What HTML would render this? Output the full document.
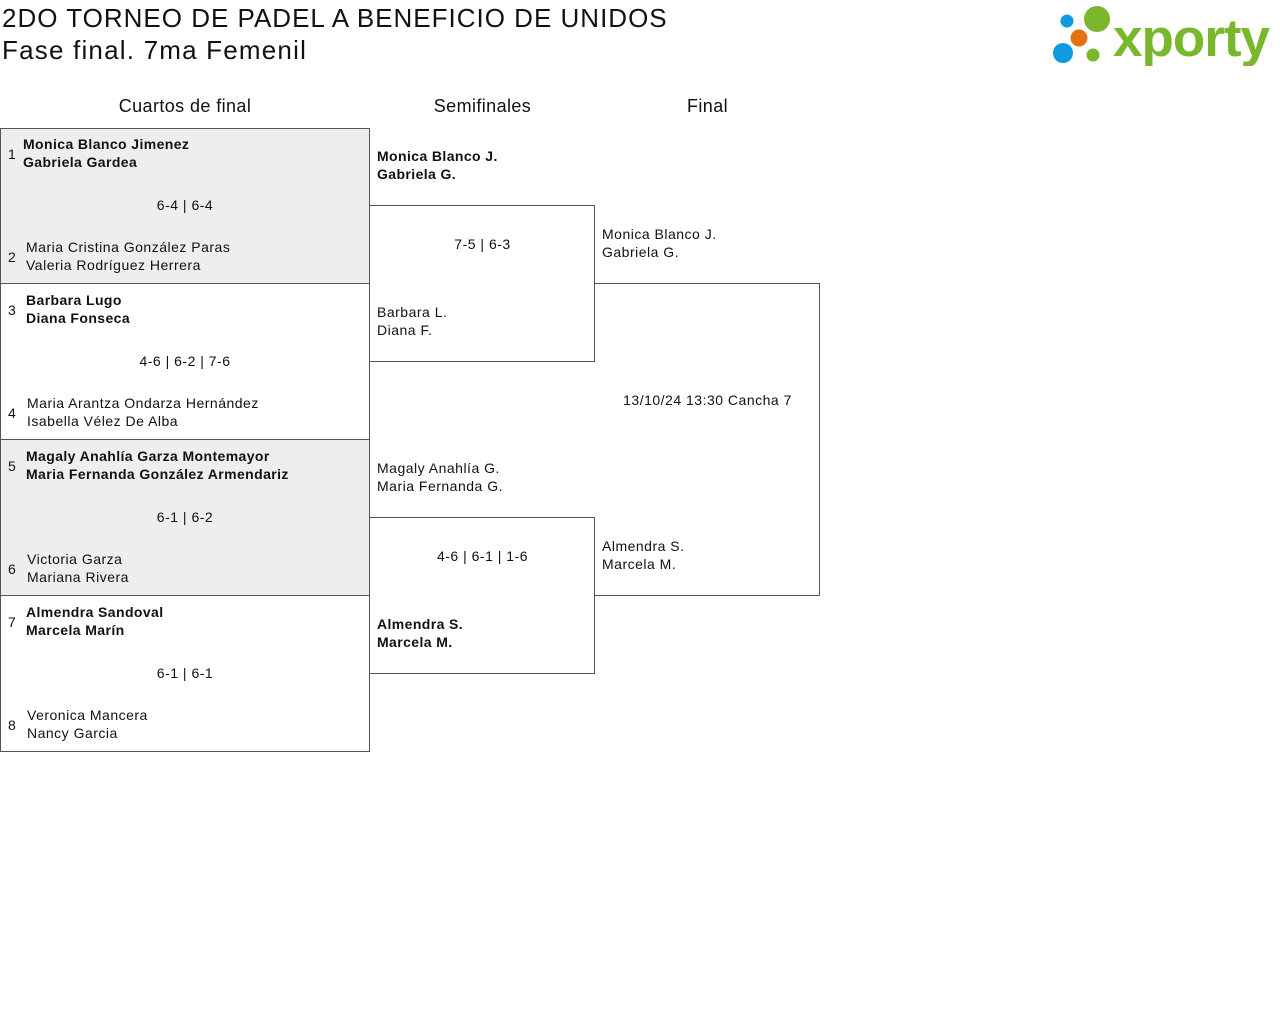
<!DOCTYPE html>
<html><head><meta charset="utf-8"><style>
body{margin:0;width:1280px;height:1015px;background:#fff;font-family:"Liberation Sans",sans-serif;color:#111;position:relative;overflow:hidden}
.a{position:absolute;white-space:nowrap}
.box{position:absolute;border:1px solid #555;box-sizing:border-box}
.t{position:absolute;font-size:14px;line-height:18px;white-space:nowrap;letter-spacing:0.5px}
.b{font-weight:bold;letter-spacing:0.4px}
.c{text-align:center}
.h{font-size:18px;position:absolute;text-align:center;line-height:20px;letter-spacing:0.4px}
</style></head><body>
<div class="a" style="left:2px;top:3px;font-size:26px;line-height:30px;letter-spacing:1px">2DO TORNEO DE PADEL A BENEFICIO DE UNIDOS</div>
<div class="a" style="left:2px;top:35px;font-size:26px;line-height:30px;letter-spacing:1.2px">Fase final. 7ma Femenil</div>
<svg class="a" style="left:1050px;top:4px" width="230" height="62">
<circle cx="17" cy="17" r="6.5" fill="#0f9be0"/>
<circle cx="47" cy="15" r="13" fill="#7ab72d"/>
<circle cx="29" cy="34" r="8.5" fill="#e8710f"/>
<circle cx="13" cy="49" r="10" fill="#0f9be0"/>
<circle cx="43" cy="51" r="6.5" fill="#7ab72d"/>
<text x="63" y="52" font-family="Liberation Sans" font-weight="bold" font-size="53" fill="#7ab72d" letter-spacing="-1">xporty</text>
</svg>
<div class="h" style="left:0;width:370px;top:96px">Cuartos de final</div>
<div class="h" style="left:370px;width:225px;top:96px">Semifinales</div>
<div class="h" style="left:595px;width:225px;top:96px">Final</div>

<div class="box" style="left:0;top:128px;width:370px;height:156px;background:#eee"></div>
<div class="box" style="left:0;top:283px;width:370px;height:157px"></div>
<div class="box" style="left:0;top:439px;width:370px;height:157px;background:#eee"></div>
<div class="box" style="left:0;top:595px;width:370px;height:157px"></div>
<div class="box" style="left:369px;top:205px;width:226px;height:157px;border-left:none"></div>
<div class="box" style="left:369px;top:517px;width:226px;height:157px;border-left:none"></div>
<div class="box" style="left:594px;top:283px;width:226px;height:313px;border-left:none"></div>

<div class="t" style="left:8px;top:145px">1</div>
<div class="t b" style="left:23px;top:135px">Monica Blanco Jimenez<br>Gabriela Gardea</div>
<div class="t c" style="left:0;width:370px;top:196px">6-4 | 6-4</div>
<div class="t" style="left:8px;top:248px">2</div>
<div class="t" style="left:26px;top:238px">Maria Cristina González Paras<br>Valeria Rodríguez Herrera</div>

<div class="t" style="left:8px;top:301px">3</div>
<div class="t b" style="left:26px;top:291px">Barbara Lugo<br>Diana Fonseca</div>
<div class="t c" style="left:0;width:370px;top:352px">4-6 | 6-2 | 7-6</div>
<div class="t" style="left:8px;top:404px">4</div>
<div class="t" style="left:27px;top:394px">Maria Arantza Ondarza Hernández<br>Isabella Vélez De Alba</div>

<div class="t" style="left:8px;top:457px">5</div>
<div class="t b" style="left:26px;top:447px">Magaly Anahlía Garza Montemayor<br>Maria Fernanda González Armendariz</div>
<div class="t c" style="left:0;width:370px;top:508px">6-1 | 6-2</div>
<div class="t" style="left:8px;top:560px">6</div>
<div class="t" style="left:27px;top:550px">Victoria Garza<br>Mariana Rivera</div>

<div class="t" style="left:8px;top:613px">7</div>
<div class="t b" style="left:26px;top:603px">Almendra Sandoval<br>Marcela Marín</div>
<div class="t c" style="left:0;width:370px;top:664px">6-1 | 6-1</div>
<div class="t" style="left:8px;top:716px">8</div>
<div class="t" style="left:27px;top:706px">Veronica Mancera<br>Nancy Garcia</div>

<div class="t b" style="left:377px;top:147px">Monica Blanco J.<br>Gabriela G.</div>
<div class="t c" style="left:370px;width:225px;top:235px">7-5 | 6-3</div>
<div class="t" style="left:377px;top:303px">Barbara L.<br>Diana F.</div>
<div class="t" style="left:377px;top:459px">Magaly Anahlía G.<br>Maria Fernanda G.</div>
<div class="t c" style="left:370px;width:225px;top:547px">4-6 | 6-1 | 1-6</div>
<div class="t b" style="left:377px;top:615px">Almendra S.<br>Marcela M.</div>

<div class="t" style="left:602px;top:225px">Monica Blanco J.<br>Gabriela G.</div>
<div class="t c" style="left:595px;width:225px;top:391px">13/10/24 13:30 Cancha 7</div>
<div class="t" style="left:602px;top:537px">Almendra S.<br>Marcela M.</div>
</body></html>
